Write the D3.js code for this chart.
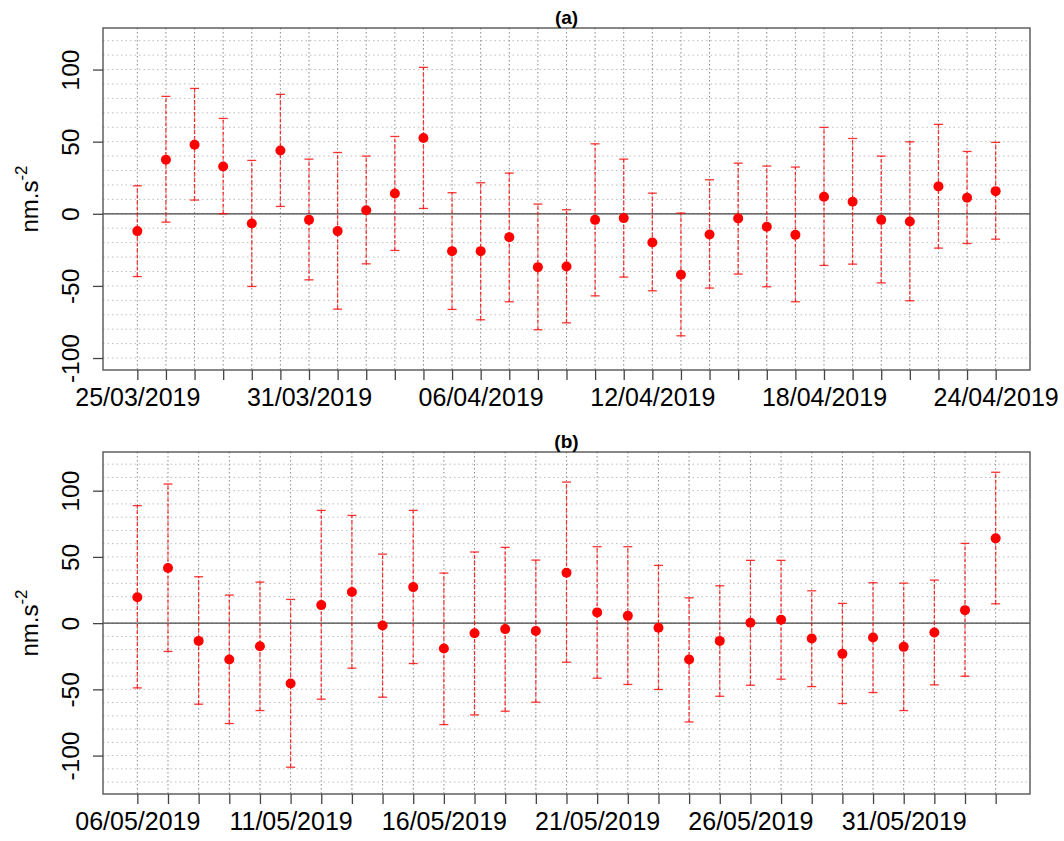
<!DOCTYPE html>
<html>
<head>
<meta charset="utf-8">
<script src="https://cdn.jsdelivr.net/npm/d3@7"></script>
<style>
  body { margin: 0; background: #fff; }
  svg { display: block; font-family: "Liberation Sans", Arial, Helvetica, sans-serif; }
</style>
</head>
<body>
<div id="chart"></div>
<script>
// ---- panel (a) data ----
const datesA = ["25/03/2019","26/03/2019","27/03/2019","28/03/2019","29/03/2019","30/03/2019","31/03/2019",
  "01/04/2019","02/04/2019","03/04/2019","04/04/2019","05/04/2019","06/04/2019","07/04/2019","08/04/2019",
  "09/04/2019","10/04/2019","11/04/2019","12/04/2019","13/04/2019","14/04/2019","15/04/2019","16/04/2019",
  "17/04/2019","18/04/2019","19/04/2019","20/04/2019","21/04/2019","22/04/2019","23/04/2019","24/04/2019"];
const labelsA = ["25/03/2019","31/03/2019","06/04/2019","12/04/2019","18/04/2019","24/04/2019"];
const meanA = [-12.0, 37.4, 47.9, 32.8, -6.7, 43.9, -4.2, -12.0, 2.5, 14.1, 52.5, -25.9, -25.9, -16.2, -37.0,
  -36.5, -4.2, -3.0, -19.9, -42.3, -14.3, -3.2, -9.0, -14.6, 11.8, 8.3, -4.2, -5.3, 19.0, 11.1, 15.7];
const upperA = [19.4, 81.4, 86.9, 66.1, 37.0, 82.8, 37.9, 42.5, 40.0, 53.6, 101.5, 14.6, 21.5, 28.2, 6.7,
  2.8, 48.5, 37.9, 14.3, 0.5, 23.6, 35.1, 33.1, 32.4, 59.9, 52.2, 40.0, 49.9, 62.0, 43.2, 49.5];
const lowerA = [-43.5, -5.8, 9.5, 0.0, -50.4, 5.1, -45.8, -66.1, -34.7, -25.4, 3.7, -66.3, -73.5, -61.0, -80.4,
  -75.6, -56.9, -43.9, -53.4, -84.6, -51.5, -41.8, -50.6, -61.0, -35.8, -34.9, -47.9, -60.3, -23.8, -20.6, -17.6];

// ---- panel (b) data ----
const datesB = ["06/05/2019","07/05/2019","08/05/2019","09/05/2019","10/05/2019","11/05/2019","12/05/2019",
  "13/05/2019","14/05/2019","15/05/2019","16/05/2019","17/05/2019","18/05/2019","19/05/2019","20/05/2019",
  "21/05/2019","22/05/2019","23/05/2019","24/05/2019","25/05/2019","26/05/2019","27/05/2019","28/05/2019",
  "29/05/2019","30/05/2019","31/05/2019","01/06/2019","02/06/2019","03/06/2019"];
const labelsB = ["06/05/2019","11/05/2019","16/05/2019","21/05/2019","26/05/2019","31/05/2019"];
const meanB = [19.6, 41.6, -13.4, -27.5, -17.4, -45.6, 13.6, 23.5, -1.8, 27.2, -19.1, -7.6, -4.5, -6.0, 38.0,
  8.1, 5.5, -3.5, -27.5, -13.4, 0.3, 2.5, -11.6, -23.2, -10.8, -17.9, -7.1, 9.8, 64.0];
const upperB = [88.7, 105.0, 35.0, 21.2, 31.0, 17.9, 85.1, 81.3, 52.1, 85.1, 37.8, 53.7, 57.2, 47.6, 106.5,
  57.7, 57.7, 43.6, 19.1, 28.2, 47.4, 47.4, 24.4, 14.9, 30.5, 30.2, 32.5, 60.2, 113.9];
const lowerB = [-48.9, -21.4, -61.2, -75.8, -66.0, -108.8, -57.4, -34.0, -55.9, -30.5, -76.6, -69.3, -66.5, -59.7, -29.5,
  -41.6, -46.3, -50.1, -74.6, -55.2, -46.9, -42.3, -47.9, -60.7, -52.4, -66.0, -46.6, -40.1, 14.6];

const yTicks = [-100, -50, 0, 50, 100];

const width = 1064, height = 841;
const svg = d3.select("#chart").append("svg")
  .attr("width", width)
  .attr("height", height);

function panel(opts) {
  const {title, dates, labels, mean, upper, lower, top, bottom, yDomain, gridMin} = opts;
  const left = 103, right = 1030;
  const n = dates.length;
  const pad = (n - 1) * 0.04;

  const x = d3.scaleLinear().domain([-pad, n - 1 + pad]).range([left, right]);
  const y = d3.scaleLinear().domain(yDomain).range([bottom, top]);

  const g = svg.append("g");

  // horizontal grid
  g.append("g").selectAll("line")
    .data(d3.range(gridMin, 121, 10))
    .join("line")
      .attr("x1", left).attr("x2", right)
      .attr("y1", d => y(d)).attr("y2", d => y(d))
      .attr("stroke", "#bdbdbd")
      .attr("stroke-width", 1)
      .attr("stroke-dasharray", "1.5,3");

  // vertical grid
  g.append("g").selectAll("line")
    .data(d3.range(n))
    .join("line")
      .attr("x1", d => x(d)).attr("x2", d => x(d))
      .attr("y1", top).attr("y2", bottom)
      .attr("stroke", "#8a8a8a")
      .attr("stroke-width", 1)
      .attr("stroke-dasharray", "1.5,2.5");

  // zero line
  g.append("line")
    .attr("x1", left).attr("x2", right)
    .attr("y1", y(0)).attr("y2", y(0))
    .attr("stroke", "#444")
    .attr("stroke-width", 1.3);

  // error bars
  const bars = g.append("g").selectAll("g")
    .data(dates.map((d, i) => ({i, m: mean[i], lo: lower[i], hi: upper[i]})))
    .join("g");
  bars.append("line")
    .attr("x1", d => x(d.i)).attr("x2", d => x(d.i))
    .attr("y1", d => y(d.lo)).attr("y2", d => y(d.hi))
    .attr("stroke", "rgba(255,0,0,0.75)")
    .attr("stroke-width", 1.3)
    .attr("stroke-dasharray", "4,2");
  bars.selectAll(".cap")
    .data(d => [{i: d.i, v: d.lo}, {i: d.i, v: d.hi}])
    .join("line")
      .attr("class", "cap")
      .attr("x1", d => x(d.i) - 4.5).attr("x2", d => x(d.i) + 4.5)
      .attr("y1", d => y(d.v)).attr("y2", d => y(d.v))
      .attr("stroke", "rgba(255,0,0,0.8)")
      .attr("stroke-width", 1.3);
  bars.append("circle")
    .attr("cx", d => x(d.i))
    .attr("cy", d => y(d.m))
    .attr("r", 5)
    .attr("fill", "#ff0000");

  // box
  g.append("rect")
    .attr("x", left).attr("y", top)
    .attr("width", right - left).attr("height", bottom - top)
    .attr("fill", "none")
    .attr("stroke", "#555")
    .attr("stroke-width", 1.4);

  // x axis
  const xAxis = g.append("g")
    .attr("transform", `translate(0,${bottom})`)
    .call(d3.axisBottom(x)
      .tickValues(d3.range(n))
      .tickSize(10)
      .tickPadding(8)
      .tickFormat(i => labels.includes(dates[i]) ? dates[i] : ""));
  xAxis.select(".domain").remove();
  xAxis.selectAll(".tick line").attr("stroke", "#444").attr("stroke-width", 1.3);
  xAxis.selectAll(".tick text")
    .attr("fill", "#000")
    .attr("font-size", "25px")
    .attr("font-family", "Liberation Sans, Arial, sans-serif");

  // y axis
  const yAxis = g.append("g")
    .attr("transform", `translate(${left},0)`)
    .call(d3.axisLeft(y).tickValues(yTicks).tickSize(10).tickFormat(d => d));
  yAxis.select(".domain").remove();
  yAxis.selectAll(".tick line").attr("stroke", "#444").attr("stroke-width", 1.3);
  yAxis.selectAll(".tick text")
    .attr("fill", "#000")
    .attr("font-size", "24.5px")
    .attr("font-family", "Liberation Sans, Arial, sans-serif")
    .attr("text-anchor", "middle")
    .attr("dy", null)
    .attr("x", null)
    .attr("transform", "translate(-33,0) rotate(-90)")
    .attr("dominant-baseline", "central");

  // y label
  const lab = g.append("text")
    .attr("transform", `translate(38,${(top + bottom) / 2}) rotate(-90)`)
    .attr("text-anchor", "middle")
    .attr("font-size", "24px")
    .attr("fill", "#000");
  lab.append("tspan").text("nm.s");
  lab.append("tspan").attr("dy", -11).attr("font-size", "17px").text("-2");

  // title
  g.append("text")
    .attr("x", (left + right) / 2)
    .attr("y", top - 4)
    .attr("text-anchor", "middle")
    .attr("font-weight", "bold")
    .attr("font-size", "19px")
    .attr("fill", "#000")
    .text(title);
}

panel({title: "(a)", dates: datesA, labels: labelsA, mean: meanA, upper: upperA, lower: lowerA,
  top: 28, bottom: 370, yDomain: [-108.3, 128.8], gridMin: -100});
panel({title: "(b)", dates: datesB, labels: labelsB, mean: meanB, upper: upperB, lower: lowerB,
  top: 452, bottom: 794, yDomain: [-129, 129.2], gridMin: -120});
</script>
</body>
</html>
